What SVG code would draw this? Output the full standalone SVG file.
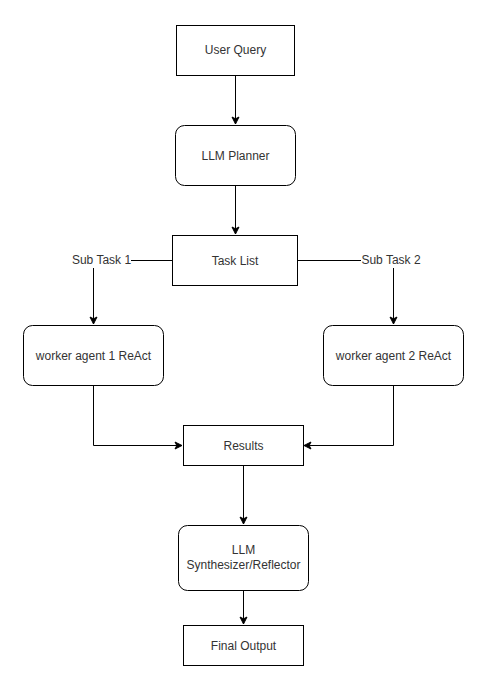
<svg xmlns="http://www.w3.org/2000/svg" width="500" height="694" viewBox="0 0 500 694">
<style>
.box{fill:#ffffff;stroke:#000000;stroke-width:1}
.lbl{font-family:"Liberation Sans",Arial,sans-serif;font-size:12px;fill:#333333;text-anchor:middle;dominant-baseline:central}
.edge{fill:none;stroke:#000000;stroke-width:1}
</style>
<defs>
<marker id="arr" markerUnits="userSpaceOnUse" markerWidth="10" markerHeight="10" viewBox="-8 -5 10 10" refX="0" refY="0" orient="auto">
<path d="M-7,-3.5 L0,0 L-7,3.5 L-5.2,0 Z" fill="#000000" stroke="#000000" stroke-width="1"/>
</marker>
</defs>
<rect width="500" height="694" fill="#ffffff"/>
<g id="connectors">
<path class="edge" d="M235.5,75.5 V124" marker-end="url(#arr)"/>
<path class="edge" d="M235.5,185.5 V234" marker-end="url(#arr)"/>
<path class="edge" d="M172.5,260.5 H131"/>
<path class="edge" d="M93.5,268 V324" marker-end="url(#arr)"/>
<path class="edge" d="M297.5,260.5 H361"/>
<path class="edge" d="M393.5,268 V324" marker-end="url(#arr)"/>
<path class="edge" d="M93.5,385.5 V445.5 H182" marker-end="url(#arr)"/>
<path class="edge" d="M393.5,385.5 V445.5 H304" marker-end="url(#arr)"/>
<path class="edge" d="M243.5,465.5 V524" marker-end="url(#arr)"/>
<path class="edge" d="M243.5,590.5 V624" marker-end="url(#arr)"/>
<text class="lbl" x="101.5" y="260">Sub Task 1</text>
<text class="lbl" x="391" y="260">Sub Task 2</text>
</g>
<g id="user-query">
<rect class="box" x="176.5" y="25.5" width="118" height="50"/>
<text class="lbl" x="235.5" y="50">User Query</text>
</g>
<g id="llm-planner">
<rect class="box" x="175.5" y="125.5" width="120" height="60" rx="9" ry="9"/>
<text class="lbl" x="235.5" y="155.5">LLM Planner</text>
</g>
<g id="task-list">
<rect class="box" x="172.5" y="235.5" width="125" height="50"/>
<text class="lbl" x="235" y="260.5">Task List</text>
</g>
<g id="worker-1">
<rect class="box" x="23.5" y="325.5" width="140" height="60" rx="9" ry="9"/>
<text class="lbl" x="93.5" y="355.5">worker agent 1 ReAct</text>
</g>
<g id="worker-2">
<rect class="box" x="323.5" y="325.5" width="140" height="60" rx="9" ry="9"/>
<text class="lbl" x="393.5" y="355.5">worker agent 2 ReAct</text>
</g>
<g id="results">
<rect class="box" x="183.5" y="425.5" width="120" height="40"/>
<text class="lbl" x="243.5" y="445.5">Results</text>
</g>
<g id="synthesizer">
<rect class="box" x="178.5" y="525.5" width="130" height="65" rx="9" ry="9"/>
<text class="lbl" x="243.5" y="550">LLM</text>
<text class="lbl" x="243.5" y="565">Synthesizer/Reflector</text>
</g>
<g id="final-output">
<rect class="box" x="183.5" y="625.5" width="120" height="40"/>
<text class="lbl" x="243.5" y="645.5">Final Output</text>
</g>
</svg>
